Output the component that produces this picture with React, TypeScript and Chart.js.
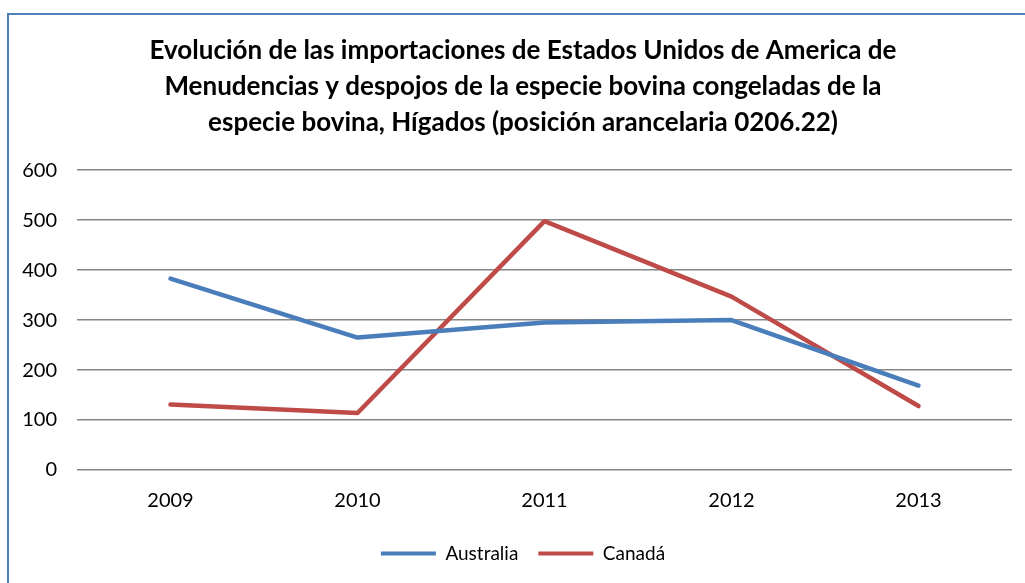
import React, { useEffect, useRef } from "react";
import { Chart, registerables } from "chart.js";

Chart.register(...registerables);

const titleLines = [
  "Evolución de las importaciones de Estados Unidos de America de",
  "Menudencias y despojos de la especie bovina congeladas de la",
  "especie bovina, Hígados (posición arancelaria 0206.22)",
];
const years = ["2009", "2010", "2011", "2012", "2013"];
const australia = [383, 265, 295, 300, 169];
const canada = [131, 114, 498, 347, 128];
const yTicks = [0, 100, 200, 300, 400, 500, 600];

const FONT = "Lato, 'Noto Sans', sans-serif";

export default function App() {
  const ref = useRef<HTMLCanvasElement | null>(null);
  useEffect(() => {
    document.body.style.margin = "0";
    document.body.style.overflow = "hidden";
    const ctx = ref.current!.getContext("2d")!;
    const chart = new Chart(ctx, {
      type: "line",
      data: {
        labels: years,
        datasets: [
          {
            label: "Australia",
            data: australia,
            borderColor: "#4A7EBB",
            backgroundColor: "#4A7EBB",
            borderWidth: 4.5,
            pointRadius: 0,
            borderCapStyle: "round",
            borderJoinStyle: "round",
            tension: 0,
          },
          {
            label: "Canadá",
            data: canada,
            borderColor: "#BE4B48",
            backgroundColor: "#BE4B48",
            borderWidth: 4.5,
            pointRadius: 0,
            borderCapStyle: "round",
            borderJoinStyle: "round",
            tension: 0,
          },
        ],
      },
      options: {
        responsive: false,
        animation: false,
        layout: { padding: { left: 34, right: 13, top: 32, bottom: 10 } },
        plugins: {
          title: {
            display: true,
            text: titleLines,
            color: "#000",
            font: { family: FONT, size: 26, weight: "bold", lineHeight: 1.4 },
            padding: { top: 0, bottom: 29 },
          },
          legend: {
            position: "bottom",
            labels: {
              color: "#000",
              font: { family: FONT, size: 19 },
              boxWidth: 55,
              boxHeight: 4,
              padding: 20,
              generateLabels: (c: any) =>
                c.data.datasets.map((d: any, i: number) => ({
                  text: d.label,
                  fillStyle: d.borderColor,
                  strokeStyle: d.borderColor,
                  lineWidth: 0,
                  hidden: false,
                  datasetIndex: i,
                  fontColor: "#000",
                })),
            },
          },
          tooltip: { enabled: false },
        },
        scales: {
          x: {
            offset: true,
            grid: { display: false, drawTicks: false },
            border: { display: false },
            afterFit: (s: any) => {
              s.height = 54;
            },
            ticks: { color: "#000", font: { family: FONT, size: 20 }, padding: 19 },
          },
          y: {
            min: 0,
            max: 600,
            afterBuildTicks: (s: any) => {
              s.ticks = yTicks.map((v) => ({ value: v }));
            },
            afterFit: (s: any) => {
              s.width = 43;
              s._computeLabelArea = () => undefined;
            },
            grid: { color: "#868686", lineWidth: 1.6, drawTicks: false },
            border: { display: false },
            ticks: { color: "#000", font: { family: FONT, size: 20 }, padding: 20 },
          },
        },
      },
    });
    return () => chart.destroy();
  }, []);
  return (
    <div style={{ position: "relative", width: 1025, height: 583, overflow: "hidden" }}>
      <div
        style={{
          position: "absolute",
          left: 7,
          top: 13,
          width: 1200,
          height: 800,
          border: "2px solid #4F81BD",
        }}
      />
      <canvas ref={ref} width={1025} height={583} style={{ position: "absolute", left: 0, top: 0 }} />
    </div>
  );
}
